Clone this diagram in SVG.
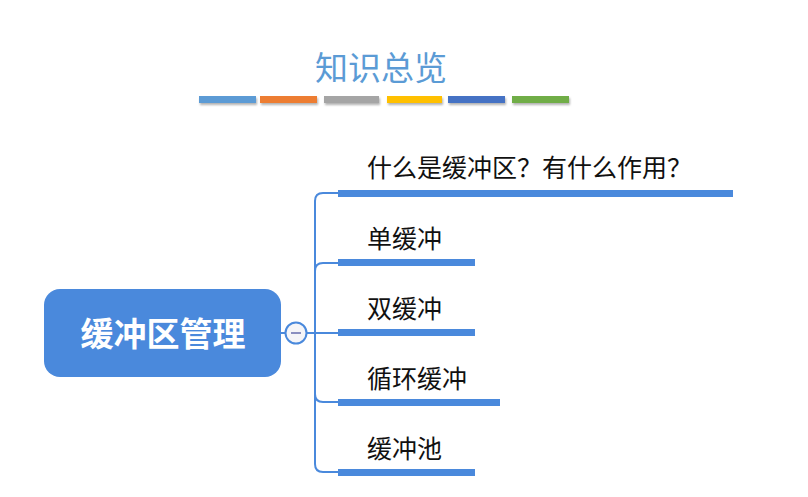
<svg xmlns="http://www.w3.org/2000/svg" width="808" height="497" viewBox="0 0 808 497">
<defs>
<filter id="sh" x="-10%" y="-50%" width="120%" height="250%">
<feDropShadow dx="1" dy="2" stdDeviation="1.2" flood-color="#000" flood-opacity="0.3"/>
</filter>
</defs>
<style>
.lbl{font-family:"Noto Sans CJK SC","Noto Sans",sans-serif;font-size:25px;font-weight:normal;fill:#111}
.ul{fill:#4a89dc}
.con{fill:none;stroke:#4a89dc;stroke-width:2}
</style>
<rect width="808" height="497" fill="#fff"/>
<g id="title">
<text x="381" y="80" text-anchor="middle" font-family="Noto Sans CJK SC, sans-serif" font-size="33" fill="#5b9bd5">知识总览</text>
<g filter="url(#sh)">
<rect x="199" y="96" width="57" height="7" fill="#5b9bd5"/>
<rect x="260" y="96" width="57" height="7" fill="#ed7d31"/>
<rect x="324" y="96" width="55" height="7" fill="#a5a5a5"/>
<rect x="387" y="96" width="55" height="7" fill="#ffc000"/>
<rect x="448" y="96" width="57" height="7" fill="#4472c4"/>
<rect x="512" y="96" width="57" height="7" fill="#70ad47"/>
</g>
</g>
<g id="connectors">
<line class="con" x1="281" y1="333" x2="285" y2="333"/>
<line class="con" x1="307" y1="333" x2="340" y2="333"/>
<path class="con" d="M315 333 V201 Q315 193 323 193 H340"/>
<path class="con" d="M315 333 V271 Q315 263 323 263 H340"/>
<path class="con" d="M315 333 V394 Q315 402 323 402 H340"/>
<path class="con" d="M315 333 V464 Q315 472 323 472 H340"/>
</g>
<g id="root">
<rect x="44" y="289" width="237" height="88" rx="16" fill="#4a89dc"/>
<text x="163" y="346" text-anchor="middle" font-family="Noto Sans CJK SC, sans-serif" font-size="33" font-weight="bold" fill="#fff">缓冲区管理</text>
</g>
<g id="collapse">
<circle cx="296" cy="333" r="10.5" fill="#f5f5f8" stroke="#4a89dc" stroke-width="2"/>
<line x1="291" y1="333" x2="301" y2="333" stroke="#8a8fc0" stroke-width="2"/>
</g>
<g id="n1">
<text class="lbl" x="367" y="177">什么是缓冲区？有什么作用？</text>
<rect class="ul" x="338" y="190" width="395" height="7"/>
</g>
<g id="n2">
<text class="lbl" x="367" y="248">单缓冲</text>
<rect class="ul" x="338" y="259" width="137" height="7"/>
</g>
<g id="n3">
<text class="lbl" x="367" y="318">双缓冲</text>
<rect class="ul" x="338" y="329" width="137" height="7"/>
</g>
<g id="n4">
<text class="lbl" x="367" y="388">循环缓冲</text>
<rect class="ul" x="338" y="399" width="162" height="7"/>
</g>
<g id="n5">
<text class="lbl" x="367" y="458">缓冲池</text>
<rect class="ul" x="338" y="469" width="137" height="7"/>
</g>
</svg>
